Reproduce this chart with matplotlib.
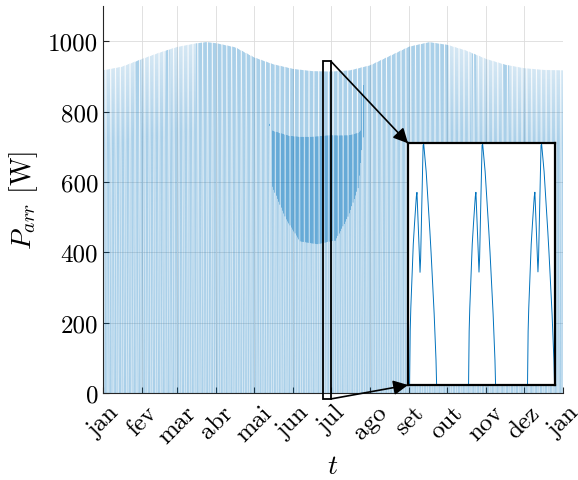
import numpy as np
import matplotlib
matplotlib.use("Agg")
import matplotlib.pyplot as plt
from matplotlib.patches import Rectangle

plt.rcParams['font.family'] = 'serif'
plt.rcParams['font.serif'] = ['cmr10']
plt.rcParams['mathtext.fontset'] = 'cm'
plt.rcParams['axes.unicode_minus'] = False

# month ticks
month_days = [0, 31, 59, 90, 120, 151, 181, 212, 243, 273, 304, 334, 365]
month_labels = ["jan", "fev", "mar", "abr", "mai", "jun", "jul",
                "ago", "set", "out", "nov", "dez", "jan"]

# daily peak power (W)
env_days = [0, 15, 31, 45, 59, 74, 82, 90, 105, 120, 135, 151, 166, 181,
            196, 212, 227, 243, 259, 273, 288, 304, 319, 334, 350, 365]
env_vals = [918, 928, 950, 968, 984, 995, 999, 996, 985, 957, 938, 925, 919, 918,
            921, 935, 960, 987, 999, 991, 974, 950, 934, 924, 919, 918]

# hours of daylight at each month start
daylen_vals = [13.4, 13.0, 12.4, 11.8, 11.2, 10.8, 10.6, 10.9, 11.5, 12.1, 12.8, 13.3, 13.4]

# daily shape (fraction of daylight -> fraction of peak)
prof_r = [0.0, 0.005, 0.03, 0.13, 0.26, 0.33, 0.39, 0.45, 0.52, 0.62, 0.78, 0.91, 0.995, 1.0]
prof_v = [0.0, 0.22, 0.32, 0.60, 0.81, 0.88, 0.93, 0.97, 1.0, 0.88, 0.60, 0.33, 0.10, 0.0]

# morning shading notch: value at the dip (fraction of peak) through the year
notch_days = [0, 116, 118, 120, 131, 134, 145, 156, 170, 184, 194, 202, 206, 212, 220, 365]
notch_dip = [0.93, 0.93, 0.84, 0.93, 0.90, 0.62, 0.52, 0.45, 0.44, 0.45, 0.53, 0.62,
             0.78, 0.88, 0.93, 0.93]
notch_r = [0.26, 0.39, 0.50]
notch_w = [0.0, 1.0, 0.0]

spd = 96
t = np.arange(365 * spd) / spd
day = np.floor(t)
hour = (t - day) * 24
env = np.interp(day + 0.5, env_days, env_vals)
dl = np.interp(day, month_days, daylen_vals)
r = (hour - (12 - dl / 2)) / dl
clear = np.interp(r, prof_r, prof_v, left=0, right=0)
dip = np.interp(day, notch_days, notch_dip)
w = np.interp(r, notch_r, notch_w, left=0, right=0)
shape = clear - w * (0.93 - dip)
p = env * shape

fig = plt.figure(figsize=(5.78, 4.81), dpi=100)
ax = fig.add_axes([0.178, 0.181, 0.796, 0.804])
ax.plot(t, p, color='#0072BD', lw=0.2, alpha=0.6)
ax.set_xlim(0, 365)
ax.set_ylim(0, 1100)
ax.set_xticks(month_days)
ax.set_xticklabels(month_labels, rotation=45, ha='center', va='top')
ax.set_yticks([0, 200, 400, 600, 800, 1000])
ax.tick_params(direction='in', labelsize=18, length=4, color='#262626')
ax.tick_params(axis='x', pad=6)
ax.grid(True, color='#dcdcdc', lw=0.6)
ax.set_axisbelow(True)
for s in ['top', 'right']:
    ax.spines[s].set_visible(False)
for s in ['left', 'bottom']:
    ax.spines[s].set_color('#262626')
ax.set_ylabel(r'$P_{arr}$ [W]', fontsize=20, labelpad=6)
ax.set_xlabel(r'$t$', fontsize=20)

# zoom box and arrows
ax.add_patch(Rectangle((174.5, -17), 6.5, 960, fill=False, ec='k', lw=1.3, clip_on=False, zorder=5))
ax.annotate('', xy=(0.706, 0.70), xycoords='figure fraction', xytext=(181, 943),
            textcoords='data', arrowprops=dict(arrowstyle='-|>', color='k', lw=1.2,
                                               mutation_scale=22, shrinkA=0, shrinkB=0), zorder=6)
ax.annotate('', xy=(0.706, 0.1975), xycoords='figure fraction', xytext=(181, -17),
            textcoords='data', arrowprops=dict(arrowstyle='-|>', color='k', lw=1.2,
                                               mutation_scale=22, shrinkA=0, shrinkB=0), zorder=6)

ins = fig.add_axes([0.706, 0.1975, 0.254, 0.503])
ins.plot(t, p, color='#0072BD', lw=0.7)
x0 = 176.245
ins.set_xlim(x0, x0 + 2.49)
m = (t >= x0) & (t <= x0 + 2.49)
ins.set_ylim(0, p[m].max() * 1.005)
ins.set_xticks([])
ins.set_yticks([])
for s in ins.spines.values():
    s.set_linewidth(1.6)
    s.set_color('k')

fig.savefig("out.png", dpi=100)
